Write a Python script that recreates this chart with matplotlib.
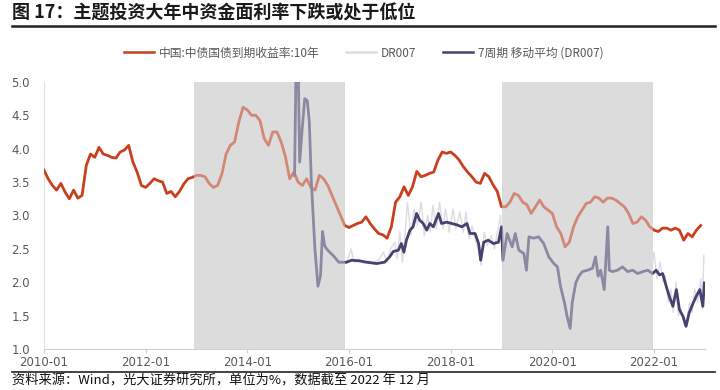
import matplotlib
matplotlib.use("Agg")
import matplotlib.pyplot as plt
from matplotlib.lines import Line2D
import numpy as np

plt.rcParams['font.family'] = ['Noto Sans CJK SC', 'DejaVu Sans']

# 10Y government bond yield, monthly from 2010-01
cgb10_start = 2010
cgb10 = [
    3.68, 3.55, 3.45, 3.38, 3.48, 3.35, 3.25, 3.38, 3.26, 3.30, 3.75, 3.92,
    3.87, 4.02, 3.92, 3.90, 3.87, 3.86, 3.95, 3.98, 4.05, 3.80, 3.65, 3.45,
    3.42, 3.48, 3.55, 3.52, 3.50, 3.33, 3.36, 3.28, 3.36, 3.47, 3.55, 3.57,
    3.60, 3.60, 3.58, 3.48, 3.42, 3.45, 3.62, 3.92, 4.05, 4.10, 4.40, 4.62,
    4.58, 4.50, 4.50, 4.42, 4.15, 4.05, 4.25, 4.25, 4.10, 3.88, 3.55, 3.65,
    3.50, 3.45, 3.55, 3.42, 3.38, 3.60, 3.55, 3.45, 3.30, 3.15, 3.00, 2.85,
    2.82, 2.85, 2.88, 2.90, 2.98, 2.88, 2.80, 2.73, 2.71, 2.66, 2.83, 3.20,
    3.28, 3.43, 3.30, 3.43, 3.66, 3.58, 3.60, 3.63, 3.65, 3.83, 3.95, 3.93,
    3.95, 3.90, 3.83, 3.73, 3.65, 3.58, 3.50, 3.48, 3.63, 3.58, 3.46, 3.36,
    3.13, 3.13, 3.20, 3.33, 3.30, 3.20, 3.16, 3.03, 3.13, 3.23, 3.13, 3.08,
    3.03, 2.83, 2.73, 2.53, 2.60, 2.83, 2.98, 3.08, 3.18, 3.20, 3.28, 3.26,
    3.20, 3.26, 3.26, 3.23, 3.18, 3.13, 3.03, 2.88, 2.90, 2.98, 2.93, 2.83,
    2.78, 2.76, 2.81, 2.81, 2.78, 2.81, 2.78, 2.63, 2.73, 2.68, 2.78, 2.85,
]

# DR007 raw (decimal year, %)
dr_x = [
    2014.93, 2014.97, 2015.02, 2015.06, 2015.10, 2015.15, 2015.20, 2015.25, 2015.30, 2015.36,
    2015.42, 2015.47, 2015.50, 2015.55, 2015.60, 2015.66, 2015.75, 2015.85, 2015.95, 2016.04,
    2016.10, 2016.20, 2016.30, 2016.40, 2016.50, 2016.60, 2016.68, 2016.75, 2016.82, 2016.90,
    2016.95, 2017.00, 2017.05, 2017.10, 2017.15, 2017.22, 2017.28, 2017.35, 2017.42, 2017.48,
    2017.55, 2017.60, 2017.65, 2017.72, 2017.78, 2017.85, 2017.90, 2017.97, 2018.05, 2018.10,
    2018.18, 2018.25, 2018.30, 2018.36, 2018.42, 2018.50, 2018.56, 2018.60, 2018.66, 2018.72,
    2018.80, 2018.86, 2018.92, 2018.98, 2019.02, 2019.08, 2019.13, 2019.18, 2019.25, 2019.30,
    2019.38, 2019.45, 2019.48, 2019.52, 2019.58, 2019.65, 2019.70, 2019.76, 2019.85, 2019.90,
    2019.97, 2020.05, 2020.10, 2020.15, 2020.20, 2020.25, 2020.30, 2020.34, 2020.37, 2020.42,
    2020.48, 2020.55, 2020.60, 2020.66, 2020.72, 2020.78, 2020.83, 2020.88, 2020.93, 2020.98,
    2021.05, 2021.08, 2021.11, 2021.15, 2021.22, 2021.30, 2021.35, 2021.42, 2021.50, 2021.55,
    2021.62, 2021.70, 2021.75, 2021.82, 2021.87, 2021.93, 2022.00, 2022.06, 2022.12, 2022.18,
    2022.22, 2022.28, 2022.33, 2022.38, 2022.43, 2022.48, 2022.53, 2022.60, 2022.65, 2022.70,
    2022.75, 2022.80, 2022.86, 2022.92, 2022.95, 2022.98,
]
dr_y = [
    3.50, 5.50, 4.00, 3.60, 5.00, 4.80, 4.60, 3.20, 2.20, 1.90,
    2.00, 2.90, 2.50, 2.40, 2.55, 2.35, 2.30, 2.35, 2.28, 2.50,
    2.30, 2.35, 2.28, 2.32, 2.30, 2.35, 2.45, 2.30, 2.50, 2.60,
    2.35, 2.75, 2.30, 2.70, 3.20, 2.70, 3.10, 2.85, 3.20, 2.70,
    3.00, 2.75, 3.15, 2.80, 3.20, 2.80, 3.10, 2.75, 3.10, 2.80,
    3.05, 2.75, 3.05, 2.65, 2.85, 2.60, 2.45, 2.25, 2.75, 2.55,
    2.70, 2.50, 2.75, 3.00, 2.20, 2.90, 2.60, 2.45, 2.85, 2.40,
    2.60, 2.20, 1.90, 2.80, 2.55, 2.75, 2.55, 2.80, 2.45, 2.60,
    2.20, 2.40, 2.00, 2.10, 1.60, 1.80, 1.30, 1.20, 1.50, 1.85,
    2.10, 2.00, 2.30, 2.05, 2.35, 2.10, 2.55, 1.95, 2.30, 1.70,
    2.20, 3.00, 2.30, 2.05, 2.30, 2.05, 2.35, 2.10, 2.35, 2.05,
    2.30, 2.00, 2.30, 2.10, 2.35, 2.05, 2.45, 2.05, 2.30, 2.00,
    2.10, 1.70, 1.90, 1.55, 2.00, 1.50, 1.60, 1.35, 1.45, 1.70,
    1.55, 1.90, 1.70, 2.05, 1.60, 2.40,
]

# 7-period moving average of DR007
ma_x = [
    2014.93, 2014.96, 2015.00, 2015.03, 2015.08, 2015.13, 2015.18, 2015.22, 2015.26, 2015.33,
    2015.39, 2015.44, 2015.48, 2015.52, 2015.56, 2015.62, 2015.69, 2015.80, 2015.95, 2016.05,
    2016.21, 2016.35, 2016.54, 2016.70, 2016.80, 2016.87, 2016.97, 2017.03, 2017.08, 2017.13,
    2017.20, 2017.26, 2017.33, 2017.39, 2017.46, 2017.53, 2017.59, 2017.66, 2017.76, 2017.82,
    2017.92, 2018.02, 2018.12, 2018.22, 2018.32, 2018.38, 2018.48, 2018.55, 2018.59, 2018.65,
    2018.74, 2018.84, 2018.94, 2019.00, 2019.03, 2019.11, 2019.21, 2019.27, 2019.34, 2019.44,
    2019.49, 2019.54, 2019.63, 2019.73, 2019.83, 2019.93, 2020.03, 2020.10, 2020.16, 2020.24,
    2020.29, 2020.35, 2020.39, 2020.46, 2020.52, 2020.59, 2020.69, 2020.79, 2020.85, 2020.90,
    2020.95, 2021.02, 2021.09, 2021.12, 2021.18, 2021.28, 2021.38, 2021.48, 2021.58, 2021.68,
    2021.78, 2021.88, 2021.97, 2022.04, 2022.11, 2022.17, 2022.24, 2022.30, 2022.37, 2022.44,
    2022.50, 2022.57, 2022.63, 2022.69, 2022.77, 2022.83, 2022.90, 2022.96, 2022.99,
]
ma_y = [
    3.60, 5.30, 5.30, 3.80, 4.30, 4.75, 4.72, 4.40, 3.50, 2.50,
    1.94, 2.10, 2.76, 2.55, 2.50, 2.45, 2.40, 2.30, 2.30, 2.33,
    2.32, 2.30, 2.28, 2.30, 2.38, 2.46, 2.48, 2.58, 2.45, 2.63,
    2.78, 2.83, 3.03, 2.93, 2.88, 2.78, 2.88, 2.83, 3.03, 2.88,
    2.90, 2.88, 2.86, 2.83, 2.88, 2.73, 2.73, 2.58, 2.33, 2.60,
    2.63, 2.58, 2.60, 2.83, 2.33, 2.73, 2.53, 2.73, 2.48, 2.43,
    2.18, 2.68, 2.66, 2.68, 2.58, 2.38, 2.28, 2.23, 1.94, 1.69,
    1.49, 1.31, 1.69, 1.99, 2.09, 2.16, 2.18, 2.21, 2.38, 2.09,
    2.18, 1.89, 2.83, 2.18, 2.16, 2.18, 2.23, 2.16, 2.18, 2.13,
    2.16, 2.18, 2.13, 2.18, 2.11, 2.13, 1.94, 1.79, 1.64, 1.89,
    1.59, 1.49, 1.34, 1.54, 1.69, 1.79, 1.89, 1.64, 1.99,
]

span_start = [2012.95, 2019.00]
span_end = [2015.92, 2021.97]

x_ticks = [2010, 2012, 2014, 2016, 2018, 2020, 2022]
x_labels = ['2010-01', '2012-01', '2014-01', '2016-01', '2018-01', '2020-01', '2022-01']
y_ticks = [1.0, 1.5, 2.0, 2.5, 3.0, 3.5, 4.0, 4.5, 5.0]

red = '#c8401e'
navy = '#46426e'
raw_gray = '#dcdce3'
txt = '#595959'

fig = plt.figure(figsize=(7.2, 3.9), dpi=100)
ax = fig.add_axes([0.061, 0.105, 0.918, 0.685])

x10 = cgb10_start + np.arange(len(cgb10)) / 12
ax.plot(dr_x, dr_y, color=raw_gray, lw=1.0, zorder=2)
ax.plot(x10, cgb10, color=red, lw=2.0, zorder=3)
ax.plot(ma_x, ma_y, color=navy, lw=2.0, zorder=4)

for s, e in zip(span_start, span_end):
    ax.axvspan(s, e, color='#d9d9d9', lw=0, zorder=0)
    ax.axvspan(s, e, color='#e0e0e0', alpha=0.45, lw=0, zorder=5)

ax.set_xlim(2010.0, 2023.0)
ax.set_ylim(1.0, 5.0)
ax.set_xticks(x_ticks)
ax.set_xticklabels(x_labels)
ax.set_yticks(y_ticks)
ax.set_yticklabels([f'{v:.1f}' for v in y_ticks])
ax.tick_params(axis='both', colors='#d0d0d0', labelcolor=txt, labelsize=8.5, length=3)
ax.tick_params(axis='y', length=0, pad=10)
ax.tick_params(axis='x', pad=2)
for lab in ax.get_xticklabels() + ax.get_yticklabels():
    lab.set_family(['Liberation Sans Narrow', 'DejaVu Sans'])
for side in ['top', 'right']:
    ax.spines[side].set_visible(False)
ax.spines['left'].set_color('#e3e3e3')
ax.spines['bottom'].set_color('#d0d0d0')

handles = [
    Line2D([], [], color=red, lw=1.8),
    Line2D([], [], color=raw_gray, lw=1.8),
    Line2D([], [], color=navy, lw=1.8),
]
labels = ['中国:中债国债到期收益率:10年', 'DR007', '7周期 移动平均 (DR007)']
leg = fig.legend(handles, labels, loc='center', bbox_to_anchor=(0.505, 0.864), ncol=3,
                 frameon=False, fontsize=8.5, handlelength=2.6, columnspacing=2.2,
                 handletextpad=0.4)
for t in leg.get_texts():
    t.set_color(txt)

fig.text(0.016, 0.966, '图 17：主题投资大年中资金面利率下跌或处于低位', fontsize=13,
         fontweight='bold', va='center', ha='left', color='#1a1a1a')
fig.add_artist(Line2D([0.016, 0.993], [0.933, 0.933], color='#222222', lw=1.8))
fig.add_artist(Line2D([0.016, 0.993], [0.046, 0.046], color='#222222', lw=1.2))
fig.text(0.016, 0.022, '资料来源：Wind，光大证券研究所，单位为%，数据截至 2022 年 12 月',
         fontsize=9.5, va='center', ha='left', color='#111111')

fig.savefig('out.png', dpi=100)
